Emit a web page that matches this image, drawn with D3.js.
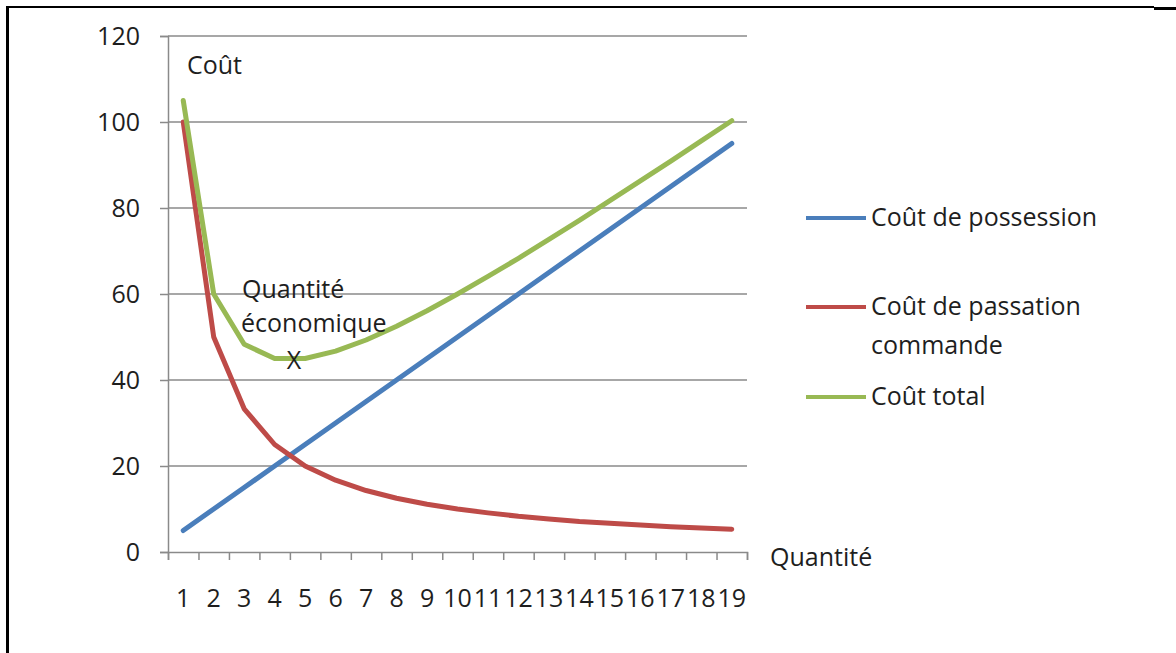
<!DOCTYPE html>
<html>
<head>
<meta charset="utf-8">
<script src="https://cdn.jsdelivr.net/npm/d3@7"></script>
<style>
  html, body { margin: 0; padding: 0; background: #fff; }
  svg { display: block; }
  text { font-family: "Open Sans", sans-serif; fill: #1e1e1e; }
</style>
</head>
<body>
<svg id="chart" width="1176" height="653"></svg>
<script>
// Quantities ordered (x axis categories)
const categories = ["1","2","3","4","5","6","7","8","9","10","11","12","13","14","15","16","17","18","19"];

// Holding cost grows with quantity
const possession = [5,10,15,20,25,30,35,40,45,50,55,60,65,70,75,80,85,90,95];
// Ordering cost falls with quantity
const passation = [100,50,33.3,25,20,16.7,14.3,12.5,11.1,10,9.1,8.3,7.7,7.1,6.7,6.3,5.9,5.6,5.3];
// Total cost
const total = [105,60,48.3,45,45,46.7,49.3,52.5,56.1,60,64.1,68.3,72.7,77.1,81.7,86.3,90.9,95.6,100.3];

const yTicks = [0,20,40,60,80,100,120];

const seriesNames = ["Coût de possession", "Coût de passation commande", "Coût total"];
const seriesColors = ["#4a7ebb", "#be4b48", "#98b954"];
const seriesData = [possession, passation, total];

const fontSize = 25;
const svg = d3.select("#chart");

// Frame edges
svg.append("rect").attr("x", 6).attr("y", 6).attr("width", 3).attr("height", 647).attr("fill", "#000");
svg.append("rect").attr("x", 6).attr("y", 6).attr("width", 1148).attr("height", 2).attr("fill", "#000");
svg.append("rect").attr("x", 1154).attr("y", 7).attr("width", 22).attr("height", 3).attr("fill", "#000");

const plotLeft = 168, plotRight = 747, plotTop = 36, plotBottom = 552;

const x = d3.scaleBand().domain(categories).range([plotLeft, plotRight]);
const xEdge = d3.scaleLinear().domain([0, categories.length]).range([plotLeft, plotRight]);
const y = d3.scaleLinear().domain([0, 120]).range([plotBottom, plotTop]);

const gridColor = "#8a8a8a";

// Horizontal gridlines
svg.append("g")
  .selectAll("line")
  .data(yTicks.filter(d => d > 0))
  .join("line")
  .attr("x1", plotLeft).attr("x2", plotRight)
  .attr("y1", d => y(d)).attr("y2", d => y(d))
  .attr("stroke", gridColor).attr("stroke-width", 1.5);

// Y axis
const yAxis = svg.append("g")
  .attr("transform", `translate(${plotLeft},0)`)
  .call(d3.axisLeft(y).tickValues(yTicks).tickSize(8).tickPadding(20));
yAxis.select(".domain").attr("stroke", gridColor).attr("stroke-width", 1.5);
yAxis.selectAll(".tick line").attr("stroke", gridColor).attr("stroke-width", 1.5);
yAxis.selectAll(".tick text")
  .attr("font-size", fontSize).attr("font-family", "Open Sans").attr("fill", "#1e1e1e");

// X axis: tick marks on category edges
const xAxisTicks = svg.append("g")
  .attr("transform", `translate(0,${plotBottom})`)
  .call(d3.axisBottom(xEdge).tickValues(d3.range(categories.length + 1)).tickSize(8).tickFormat(""));
xAxisTicks.select(".domain").attr("stroke", gridColor).attr("stroke-width", 1.5);
xAxisTicks.selectAll(".tick line").attr("stroke", gridColor).attr("stroke-width", 1.5);

// X axis: category labels centred in each band
const xAxisLabels = svg.append("g")
  .attr("transform", `translate(0,${plotBottom})`)
  .call(d3.axisBottom(x).tickSize(0).tickPadding(37));
xAxisLabels.select(".domain").remove();
xAxisLabels.selectAll(".tick text")
  .attr("font-size", fontSize).attr("font-family", "Open Sans").attr("fill", "#1e1e1e");

// Series lines
const line = d3.line()
  .x((d, i) => x(categories[i]) + x.bandwidth() / 2)
  .y(d => y(d));

seriesData.forEach((data, k) => {
  svg.append("path")
    .datum(data)
    .attr("d", line)
    .attr("fill", "none")
    .attr("stroke", seriesColors[k])
    .attr("stroke-width", 5)
    .attr("stroke-linejoin", "round")
    .attr("stroke-linecap", "round");
});

// Axis titles
svg.append("text").attr("x", 187).attr("y", 74).attr("font-size", fontSize).text("Coût");
svg.append("text").attr("x", 770).attr("y", 566).attr("font-size", fontSize).text("Quantité");

// Economic order quantity annotation
svg.append("text").attr("x", 242).attr("y", 298).attr("font-size", fontSize).text("Quantité");
svg.append("text").attr("x", 241).attr("y", 332).attr("font-size", fontSize).text("économique");
svg.append("text").attr("x", 294).attr("y", 369).attr("font-size", fontSize).attr("text-anchor", "middle").text("X");

// Legend
const legendItems = [
  { lines: ["Coût de possession"], y: 218 },
  { lines: ["Coût de passation", "commande"], y: 307 },
  { lines: ["Coût total"], y: 397 }
];
legendItems.forEach((item, k) => {
  const g = svg.append("g");
  g.append("line")
    .attr("x1", 806).attr("x2", 866)
    .attr("y1", item.y).attr("y2", item.y)
    .attr("stroke", seriesColors[k]).attr("stroke-width", 4);
  item.lines.forEach((t, j) => {
    g.append("text")
      .attr("x", 871).attr("y", item.y + 8 + j * 39)
      .attr("font-size", fontSize)
      .text(t);
  });
});
</script>
</body>
</html>
